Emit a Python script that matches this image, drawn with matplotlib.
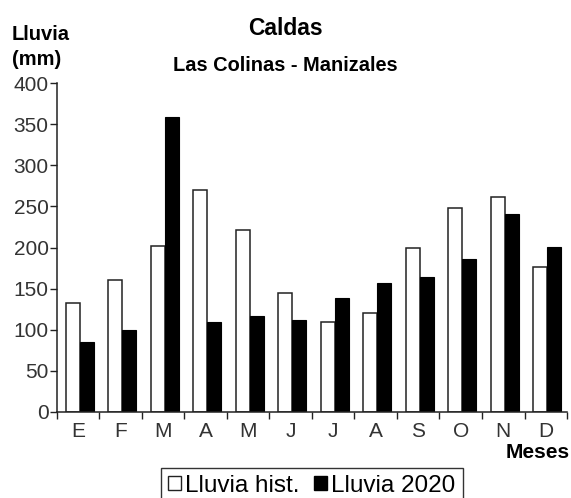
import numpy as np
import matplotlib.pyplot as plt
from matplotlib.patches import Patch

plt.rcParams['font.family'] = ['Liberation Sans', 'DejaVu Sans']

meses = ['E', 'F', 'M', 'A', 'M', 'J', 'J', 'A', 'S', 'O', 'N', 'D']
lluvia_hist = [133, 160, 202, 270, 221, 145, 110, 120, 199, 248, 262, 176]
lluvia_2020 = [85, 100, 359, 109, 117, 112, 139, 157, 164, 186, 241, 201]

fig = plt.figure(figsize=(5.71, 4.98), dpi=100)
ax = fig.add_axes([0.0998, 0.1727, 0.8932, 0.6603])

x = np.arange(len(meses))
w = 0.33
ax.bar(x - 0.29, lluvia_hist, w, align='edge', color='white',
       edgecolor='#222222', linewidth=1.1, label='Lluvia hist.')
ax.bar(x + 0.04, lluvia_2020, w, align='edge', color='black',
       edgecolor='black', linewidth=0.8, label='Lluvia 2020')

ax.set_xlim(-0.5, 11.5)
ax.set_ylim(0, 400)
ax.set_yticks(range(0, 401, 50))
ax.set_xticks(x)
ax.set_xticklabels(meses)
ax.set_xticks(np.arange(-0.5, 12, 1), minor=True)
ax.tick_params(axis='x', which='major', length=0, pad=7, labelsize=15, labelcolor='#333333')
ax.tick_params(axis='x', which='minor', length=5, width=1, color='#222222')
ax.tick_params(axis='y', length=5, width=1, pad=1, labelsize=15, labelcolor='#333333', color='#222222')

for s in ['top', 'right']:
    ax.spines[s].set_visible(False)
for s in ['left', 'bottom']:
    ax.spines[s].set_color('#222222')
    ax.spines[s].set_linewidth(1.1)

fig.text(0.5, 0.9297, 'Caldas', ha='center', va='baseline', fontsize=16.5, fontweight='bold')
fig.text(0.5, 0.858, 'Las Colinas - Manizales', ha='center', va='baseline', fontsize=14.4, fontweight='bold')
fig.text(0.021, 0.9197, 'Lluvia', ha='left', va='baseline', fontsize=14.5, fontweight='bold')
fig.text(0.021, 0.8695, '(mm)', ha='left', va='baseline', fontsize=14.5, fontweight='bold')
fig.text(0.997, 0.0803, 'Meses', ha='right', va='baseline', fontsize=15, fontweight='bold')

handles = [Patch(facecolor='white', edgecolor='#222222', linewidth=1),
           Patch(facecolor='black', edgecolor='black')]
leg = fig.legend(handles, ['Lluvia hist.', 'Lluvia 2020'], loc='upper center',
                 bbox_to_anchor=(0.546, 0.061), ncol=2, fontsize=17.5, frameon=True,
                 fancybox=False, edgecolor='black', handlelength=0.53, handleheight=0.53,
                 handletextpad=0.16, columnspacing=0.62, borderpad=0.3, borderaxespad=0)
leg.get_frame().set_linewidth(1)

fig.savefig('out.png', dpi=100)
